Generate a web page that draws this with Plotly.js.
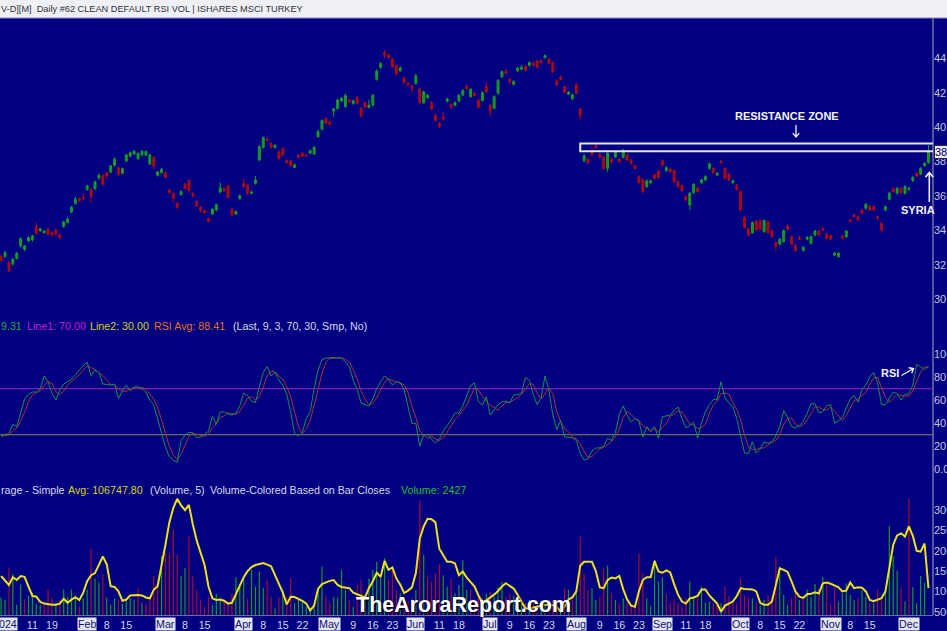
<!DOCTYPE html>
<html><head><meta charset="utf-8">
<script src="https://cdn.plot.ly/plotly-3.0.1.min.js"></script>
<style>html,body{margin:0;padding:0;background:#000080;overflow:hidden}#chart{width:947px;height:631px}</style>
</head><body><div id="chart"></div>
<script>
// ---- categories (trading days) ----
const holidays = ['2024-01-01','2024-01-15','2024-02-19','2024-03-29','2024-05-27','2024-06-19','2024-07-04','2024-09-02','2024-11-28'];
const firstDay = [2023, 11, 29], lastDay = [2024, 11, 9];
const dates = [];
for (let t = Date.UTC(...firstDay); t <= Date.UTC(...lastDay); t += 86400000) {
  const d = new Date(t), wd = d.getUTCDay(), s = d.toISOString().slice(0, 10);
  if (wd === 0 || wd === 6 || holidays.includes(s)) continue;
  dates.push(s);
}

// ---- price (OHLC) ----
const openP = [32.47,32.47,32.12,32.04,32.37,33.09,32.89,33.38,33.44,34.21,
33.98,33.86,34.06,33.88,34.02,33.75,34.21,34.44,35.06,35.57,
35.84,35.90,36.38,36.38,36.42,37.04,37.18,37.35,37.39,37.78,
37.64,37.31,38.03,38.32,38.44,38.16,38.38,38.38,37.85,38.24,
37.20,37.35,37.35,36.35,36.15,35.57,36.09,36.69,36.89,36.15,
35.68,35.34,35.14,34.68,34.95,35.18,36.23,36.42,36.58,35.24,
34.95,35.84,36.73,36.63,36.15,36.73,38.09,38.82,39.31,39.06,
38.82,38.55,38.75,38.07,38.03,37.66,38.36,38.47,38.36,38.48,
38.44,39.44,39.89,40.51,40.30,40.93,41.09,41.52,41.19,41.57,
41.38,41.71,41.09,41.42,41.15,41.28,42.78,43.47,44.33,44.19,
43.96,43.57,43.28,42.87,42.54,42.39,42.54,42.22,41.42,41.71,
41.42,40.70,40.22,40.57,41.50,41.30,41.26,41.52,41.87,42.35,
41.77,41.96,41.57,41.54,42.35,41.26,41.09,41.96,42.93,43.24,
42.78,42.49,43.28,43.36,43.55,43.59,43.73,43.84,43.84,44.04,
43.94,43.75,42.70,42.91,42.35,41.92,41.65,42.45,41.05,38.05,
38.13,38.63,38.92,38.42,38.24,37.60,38.13,38.28,38.13,38.24,
38.38,38.09,37.76,37.12,36.93,36.54,36.77,37.22,37.45,38.05,
37.47,37.56,37.47,36.83,36.58,35.96,35.47,36.19,36.46,36.77,
36.93,37.60,37.60,37.22,38.03,37.60,37.27,36.77,36.63,36.25,
34.75,34.08,33.86,34.54,34.56,33.92,34.50,33.98,33.28,33.20,
33.34,34.25,33.63,33.11,33.57,32.82,33.49,33.24,33.73,33.96,
34.11,33.79,33.69,32.56,32.47,33.67,33.63,34.60,34.89,34.79,
35.18,35.28,35.41,35.37,34.79,34.41,35.18,35.80,36.44,36.15,
36.44,36.15,36.38,36.89,37.31,37.27,37.76,37.93];
const highP = [32.6,32.8,32.2,32.4,32.75,33.6,33.15,33.65,33.75,34.42,
34.15,34.0,34.15,33.95,34.1,33.8,34.55,34.75,35.42,35.95,
35.9,36.15,36.65,36.45,36.9,37.3,37.25,37.42,37.8,38.25,
37.7,37.65,38.45,38.58,38.68,38.52,38.68,38.66,38.45,38.3,
37.45,37.62,37.42,36.42,36.2,35.62,36.32,36.75,36.95,36.22,
35.75,35.4,35.2,34.75,35.28,35.55,36.8,36.5,36.65,35.3,
35.15,36.08,37.0,36.7,36.3,37.15,38.95,39.45,39.4,39.12,
39.0,38.62,38.85,38.12,38.1,37.88,38.42,38.55,38.42,38.7,
38.9,39.85,40.45,40.58,40.38,41.12,41.65,41.75,41.95,41.65,
41.6,41.8,41.15,41.5,41.6,41.92,43.35,43.78,44.5,44.28,
44.05,43.65,43.55,42.95,42.62,42.45,43.1,42.3,42.12,41.92,
41.5,40.78,40.3,40.9,41.7,41.38,41.5,41.92,42.2,42.5,
42.28,42.05,41.65,42.08,42.62,41.35,41.85,42.78,43.3,43.42,
42.85,42.72,43.5,43.62,43.62,43.82,43.8,43.9,43.95,44.22,
44.0,43.82,42.78,43.0,42.42,42.1,41.95,42.6,41.12,38.45,
38.2,38.85,39.0,38.5,38.3,38.55,38.2,38.62,38.2,38.72,
38.45,38.15,37.82,37.2,37.0,36.95,36.95,37.3,37.52,38.12,
37.72,37.65,37.55,36.9,36.65,36.05,36.22,36.75,36.52,37.0,
37.2,37.95,37.68,37.38,38.1,37.68,37.35,36.95,36.7,36.32,
34.82,34.15,34.52,34.6,34.62,34.62,34.56,34.05,33.35,33.55,
34.05,34.4,33.7,33.18,33.7,33.08,33.66,33.7,34.02,34.03,
34.2,33.85,33.75,32.75,32.72,33.73,34.02,34.67,34.96,34.86,
35.25,35.58,35.48,35.44,34.86,34.48,35.44,36.22,36.51,36.51,
36.51,36.61,36.51,37.15,37.38,37.67,37.96,38.96];
const lowP = [32.15,32.4,31.55,31.95,32.3,33.0,32.8,33.3,33.35,33.75,
33.9,33.8,33.7,33.65,33.7,33.45,34.15,34.4,35.0,35.5,
35.65,35.75,36.3,35.6,36.35,36.95,36.6,37.05,37.3,37.7,
37.15,37.25,37.95,38.25,38.38,38.1,38.3,38.3,37.8,37.55,
37.12,37.3,37.0,36.1,35.6,35.25,36.0,36.38,36.25,35.9,
35.35,35.05,34.98,34.45,34.9,35.1,36.15,36.25,35.85,34.8,
34.88,35.78,36.45,36.05,36.1,36.65,38.0,38.75,39.15,38.75,
38.75,38.1,38.3,37.88,37.7,37.6,38.18,38.26,38.28,38.42,
38.38,39.38,39.8,40.15,40.05,40.6,41.0,41.45,41.1,41.4,
41.3,41.3,40.55,41.08,41.08,41.2,42.7,43.4,44.0,43.98,
43.45,43.0,43.2,42.5,42.38,42.0,42.45,41.35,41.35,41.65,
40.98,40.3,39.95,40.4,41.45,41.08,41.2,41.45,41.8,42.18,
41.7,41.78,41.08,41.48,41.98,40.6,41.02,41.9,42.85,43.05,
42.52,42.42,43.2,43.3,43.22,43.52,43.55,43.4,43.7,43.98,
43.65,43.15,42.38,42.72,41.95,41.85,41.58,41.9,40.45,37.95,
37.85,38.3,38.75,38.15,37.5,37.4,37.9,38.2,37.92,38.18,
38.02,37.82,37.52,36.7,36.15,36.45,36.7,36.95,37.0,37.72,
37.4,37.35,36.75,36.45,36.22,35.68,35.2,36.12,36.18,36.7,
36.85,37.52,37.28,37.15,37.85,36.95,36.85,36.7,36.3,35.1,
34.1,33.65,33.8,33.95,34.0,33.85,33.8,33.55,32.8,33.12,
33.28,34.0,33.12,32.75,33.42,32.75,33.42,33.18,33.66,33.66,
33.95,33.46,33.42,32.5,32.4,33.46,33.56,34.43,34.72,34.53,
34.92,35.2,35.11,35.11,34.63,33.9,35.11,35.73,36.18,36.08,
36.12,36.08,36.31,36.82,37.09,37.2,37.69,37.86];
const closeP = [32.27,32.70,31.65,32.31,32.66,33.51,33.09,33.57,33.67,33.82,
34.08,33.96,33.77,33.73,33.77,33.59,34.48,34.66,35.34,35.80,
35.72,35.85,36.58,35.96,36.81,37.20,36.69,37.16,37.74,38.13,
37.27,37.58,38.38,38.51,38.59,38.47,38.59,38.57,38.38,37.74,
37.39,37.54,37.08,36.21,35.86,35.32,36.25,36.44,36.31,36.01,
35.41,35.14,35.03,34.52,35.22,35.49,36.46,36.30,35.92,34.89,
35.08,36.01,36.54,36.15,36.23,36.92,38.86,39.39,39.21,38.82,
38.94,38.18,38.38,37.93,37.76,37.80,38.24,38.32,38.32,38.63,
38.82,39.73,40.37,40.22,40.16,41.05,41.57,41.67,41.83,41.46,
41.52,41.38,40.66,41.15,41.27,41.85,43.26,43.69,44.19,44.06,
43.51,43.09,43.42,42.60,42.45,42.25,42.97,41.44,42.04,41.85,
41.05,40.37,40.03,40.47,41.63,41.15,41.42,41.85,42.12,42.23,
42.20,41.83,41.15,42.00,42.04,40.95,41.77,42.70,43.22,43.13,
42.60,42.64,43.42,43.47,43.30,43.75,43.61,43.47,43.75,44.15,
43.71,43.22,42.45,42.78,42.02,42.02,41.87,41.96,40.66,38.32,
37.93,38.38,38.82,38.24,37.60,38.47,37.97,38.57,37.99,38.67,
38.09,37.89,37.60,36.77,36.25,36.87,36.87,37.02,37.08,37.80,
37.64,37.41,36.83,36.54,36.30,35.76,36.15,36.67,36.25,36.93,
37.12,37.86,37.35,37.31,37.93,37.02,36.93,36.87,36.38,35.18,
34.17,33.73,34.44,34.02,34.06,34.56,33.86,33.63,33.05,33.47,
33.98,34.06,33.20,32.82,33.48,33.01,33.59,33.63,33.96,33.73,
34.02,33.53,33.49,32.66,32.66,33.53,33.96,34.50,34.79,34.60,
34.99,35.51,35.18,35.18,34.70,34.02,35.37,36.15,36.25,36.44,
36.19,36.54,36.44,37.08,37.16,37.60,37.89,38.55];

// ---- RSI (9) and its 3-bar average ----
const rsi = [28,30,31,39,37,50,61,65,67,67,70,81,76,66,60,69,74,76,78,82,
86,90,93,81,86,84,74,73.5,73,74,61.5,68,73,68,71.5,71.5,70,67,60,56,
44,30,19,11,8,6,25,29.5,32,32,27.5,28,30.5,33,46,39,50,49.5,48,47,
48.5,55,66,64,59,58,71.6,84,89,81,84,77.5,73,65,50,31,29,32.5,44,50,
70,86,95,96.5,96.8,96.8,96.6,96.5,93,89,77,69,57.7,56,54.8,61,70,76,80.9,78,
73,76,75,69,55,39.8,39.8,20,30,30,26,23,26,33,38,42.7,49,48.5,55,63,
72.5,75,58.6,55.7,63,47,51,56,58.5,59,57.5,64.5,64.7,66,79.5,77,65,56,62,80.9,
68.7,47,34.6,42.5,28,27.4,27.4,25,13.8,8,9,16,18.5,18.5,20,26.8,25,32,48,55,
47,41,44,42,28,37,33,37,27,45.6,46,47,51,54,44,36,38,41,27,40,
50,56,60.6,60.6,76,62,57.5,54.5,44,30,14,13.8,23.9,14,17.5,23.9,22.5,24,29,37,
51,45,37,36,38,41.5,48.5,57,56.7,49,50,55,56,40,42,45,53.5,61,64,58,
69,73,80,84,75,56,56,62,67,65.5,60,65,65.5,73,91,89,86.5,89.31];
const rsiAvg = [29,29.5,29.7,33.3,35.7,42,49.3,58.7,64.3,66.3,68,72.7,75.7,74.3,67.3,65,67.7,73,76,78.7,
82,86,89.7,88,86.7,83.7,81.3,77.2,73.5,73.5,69.5,67.8,67.5,69.7,70.8,70.3,71,69.5,65.7,61,
53.3,43.3,31,20,12.7,8.3,13,20.2,28.8,31.2,30.5,29.2,28.7,30.5,36.5,39.3,45,46.2,49.2,48.2,
47.8,50.2,56.5,61.7,63,60.3,62.9,71.2,81.5,84.7,84.7,80.8,78.2,71.8,62.7,48.7,36.7,30.8,35.2,42.2,
54.7,68.7,83.7,92.5,96.1,96.7,96.7,96.6,95.4,92.8,86.3,78.3,67.9,60.9,56.2,57.3,61.9,69,75.6,78.3,
77.3,75.7,74.7,73.3,66.3,54.6,44.9,33.2,29.9,26.7,28.7,26.3,25,27.3,32.3,37.9,43.2,46.7,50.8,55.5,
63.5,70.2,68.7,63.1,59.1,55.2,53.7,51.3,55.2,57.8,58.3,60.3,62.2,65.1,70.1,74.2,73.8,66,61,66.3,
70.5,65.5,50.1,41.4,35,32.6,27.6,26.6,22.1,15.6,10.3,11,14.5,17.7,19,21.8,23.9,27.9,35,45,
50,47.7,44,42.3,38,35.7,32.7,35.7,32.3,36.5,39.5,46.2,48,50.7,49.7,44.7,39.3,38.3,35.3,36,
39,48.7,55.5,59.1,65.7,66.2,65.2,58,52,42.8,29.3,19.3,17.2,17.2,18.5,18.5,21.3,23.5,25.2,30,
39,44.3,44.3,39.3,37,38.5,42.7,49,54.1,54.2,51.9,51.3,53.7,50.3,46,42.3,46.8,53.2,59.5,61,
63.7,66.7,74,79,79.7,71.7,62.3,58,61.7,64.8,64.2,63.5,63.5,67.8,76.5,84.3,88.8,88.41];
const rsiLevels = [70, 30];

// ---- volume and its 5-bar simple average ----
const volume = [85000,79000,158000,143000,67000,117000,80000,89000,97000,69000,
67000,67000,104000,83000,71000,79000,105000,85000,105000,87000,
62000,83000,104000,206000,132000,122000,143000,85000,67000,83000,
79000,71000,79000,83000,79000,108000,72000,71000,87000,138000,
116000,187000,195000,192000,253000,190000,138000,157000,236000,138000,
104000,79000,62000,87000,67000,94000,83000,75000,67000,95000,
135000,116000,135000,83000,153000,112000,149000,108000,130000,87000,
58000,85000,104000,87000,132000,71000,79000,75000,62000,58000,
71000,104000,161000,87000,71000,87000,85000,153000,104000,79000,
62000,116000,128000,83000,132000,153000,173000,136000,182000,128000,
153000,104000,95000,87000,75000,83000,104000,325000,190000,140000,
124000,145000,168000,140000,112000,132000,95000,116000,177000,104000,
104000,79000,89000,83000,95000,99000,87000,110000,124000,87000,
95000,89000,85000,79000,71000,79000,71000,67000,62000,75000,
67000,79000,75000,67000,108000,104000,79000,104000,235000,145000,
104000,108000,79000,87000,157000,163000,95000,79000,71000,83000,
71000,62000,67000,194000,145000,83000,64000,177000,124000,135000,
95000,71000,80000,72000,62000,83000,124000,87000,83000,112000,
72000,75000,71000,67000,71000,112000,87000,79000,71000,132000,
89000,85000,83000,72000,67000,79000,91000,87000,185000,161000,
91000,67000,83000,99000,79000,89000,104000,87000,118000,108000,
135000,116000,67000,110000,75000,95000,120000,91000,79000,83000,
102000,87000,71000,71000,105000,87000,99000,261000,186000,151000,
108000,75000,329000,110000,71000,138000,122000,2427];
const volumeAvg = [138000,126000,116000,135000,128000,138000,136000,112000,89000,87000,
74000,70000,68000,67000,67000,70000,82000,72000,80000,86000,
79000,97000,125000,140000,145000,165000,186000,167000,113000,111000,
100000,77000,80000,90000,91000,91000,90000,85000,83000,104000,
113000,160000,215000,270000,305000,328000,312000,300000,313000,265000,
225000,195000,165000,112000,83000,79000,80000,77000,70000,72000,
92000,112000,135000,150000,160000,165000,168000,170000,166000,162000,
140000,120000,97000,68000,87000,86000,82000,77000,70000,53000,
65000,106000,118000,122000,126000,128000,116000,111000,109000,108000,
97000,93000,89000,85000,108000,125000,146000,136000,175000,153000,
159000,132000,117000,96000,102000,110000,145000,230000,260000,279000,
278000,270000,205000,188000,173000,173000,169000,140000,149000,134000,
124000,112000,90000,72000,78000,84000,92000,101000,112000,120000,
113000,107000,92000,75000,58000,58000,60000,62000,64000,67000,
67000,66000,62000,50000,63000,80000,85000,100000,163000,173000,
173000,173000,150000,110000,108000,128000,134000,132000,138000,105000,
80000,65000,62000,100000,128000,135000,135000,175000,149000,146000,
152000,147000,118000,92000,75000,70000,83000,85000,89000,105000,
105000,90000,80000,70000,50000,65000,70000,75000,88000,108000,
106000,105000,105000,100000,72000,67000,67000,75000,120000,157000,
153000,148000,125000,100000,87000,84000,93000,94000,98000,95000,
120000,122000,119000,115000,110000,100000,102000,122000,108000,110000,
109000,100000,79000,76000,80000,83000,100000,160000,215000,238000,
243000,235000,260000,237000,200000,198000,218000,108000];

// ---- axis labels ----
const priceTicks = [30,32,34,36,38,40,42,44];
const rsiTicks = [0,20,40,60,80,100];
const volTicks = [50000,100000,150000,200000,250000,300000];
const dayTickDates = ['2024-01-11','2024-01-19','2024-02-08','2024-02-15','2024-03-08','2024-03-15',
 '2024-04-08','2024-04-15','2024-04-22','2024-05-09','2024-05-16','2024-05-23','2024-06-11','2024-06-18',
 '2024-07-09','2024-07-16','2024-07-23','2024-08-09','2024-08-16','2024-08-23','2024-09-11','2024-09-18',
 '2024-10-08','2024-10-15','2024-10-22','2024-11-08','2024-11-15'];
const dayTickText = dayTickDates.map(d => String(+d.slice(8)));
const monthDates = ['2024-01-02','2024-02-01','2024-03-01','2024-04-01','2024-05-01','2024-06-03',
 '2024-07-01','2024-08-01','2024-09-03','2024-10-01','2024-11-01','2024-12-02'];
const monthText = ['2024','Feb','Mar','Apr','May','Jun','Jul','Aug','Sep','Oct','Nov','Dec'];
const resistanceZone = [38.6, 39.05];
const resistanceStart = '2024-08-02';

// ---- helpers for pixel-placed decorations ----
const PW = 933, PB = 615, PH = 597;
const px = x => x / PW, py = y => (PB - y) / PH;
function arrowPath(x0, y0, x1, y1, h) {
  const a = Math.atan2(y1 - y0, x1 - x0);
  const b1 = a + Math.PI * 0.78, b2 = a - Math.PI * 0.78;
  const p = (x, y) => px(x) + ',' + py(y);
  return 'M' + p(x0, y0) + ' L' + p(x1, y1) +
    ' M' + p(x1 + h * Math.cos(b1), y1 + h * Math.sin(b1)) + ' L' + p(x1, y1) +
    ' L' + p(x1 + h * Math.cos(b2), y1 + h * Math.sin(b2));
}

const volColors = closeP.map((c, i) => (i === 0 || c >= closeP[i - 1]) ? '#169c1c' : '#a4102a');

const traces = [
  { type: 'candlestick', x: dates, open: openP, high: highP, low: lowP, close: closeP,
    xaxis: 'x', yaxis: 'y', whiskerwidth: 0, hoverinfo: 'skip', showlegend: false,
    increasing: { line: { color: '#1aa01e', width: 1 }, fillcolor: '#159418' },
    decreasing: { line: { color: '#b00c10', width: 1 }, fillcolor: '#a0080c' } },
  { type: 'scatter', mode: 'lines', x: dates, y: rsiAvg, xaxis: 'x', yaxis: 'y2',
    line: { color: '#a83238', width: 1 }, hoverinfo: 'skip', showlegend: false },
  { type: 'scatter', mode: 'lines', x: dates, y: rsi, xaxis: 'x', yaxis: 'y2',
    line: { color: '#1c9048', width: 1 }, hoverinfo: 'skip', showlegend: false },
  { type: 'bar', x: dates, y: volume, xaxis: 'x', yaxis: 'y3', width: 0.3,
    marker: { color: volColors, line: { width: 0 } }, hoverinfo: 'skip', showlegend: false },
  { type: 'scatter', mode: 'lines', x: dates, y: volumeAvg, xaxis: 'x', yaxis: 'y3',
    line: { color: '#ece21c', width: 2 }, hoverinfo: 'skip', showlegend: false }
];

const axFont = { family: 'Liberation Sans, Arial, sans-serif', size: 11, color: '#c4c4dc' };
const legendFont = (c) => ({ family: 'Liberation Sans, Arial, sans-serif', size: 10.7, color: c });
const ann = [];
function txt(x, y, text, color, extra) {
  ann.push(Object.assign({ xref: 'paper', yref: 'paper', x: px(x), y: py(y), text: text,
    showarrow: false, xanchor: 'left', yanchor: 'middle', font: legendFont(color), borderpad: 0 }, extra || {}));
}
// title bar text
txt(0, 9, 'V-D][M]\u00a0\u00a0Daily #62 CLEAN DEFAULT RSI VOL | ISHARES MSCI TURKEY', '#303038',
  { font: { family: 'Liberation Sans, Arial, sans-serif', size: 9.2, color: '#303038' } });
// RSI legend
txt(0, 326, '9.31', '#22b030');
txt(25.7, 326, 'Line1: 70.00', '#c020d0');
txt(89, 326, 'Line2: 30.00', '#d4d420');
txt(152.7, 326, 'RSI Avg: 88.41', '#e07020');
txt(232, 326, '(Last, 9, 3, 70, 30, Smp, No)', '#d8d8e8');
// Volume legend
txt(0, 490, 'rage - Simple', '#d8d8e8');
txt(66.7, 490, 'Avg: 106747.80', '#d4d420');
txt(149, 490, '(Volume, 5)', '#d8d8e8');
txt(209, 490, 'Volume-Colored Based on Bar Closes', '#d8d8e8');
txt(400, 490, 'Volume: 2427', '#22c028');
// callouts
const calloutFont = { family: 'Liberation Sans, Arial, sans-serif', size: 11, color: '#f4f4f8' };
txt(787, 116, '<b>RESISTANCE ZONE</b>', '#fff', { xanchor: 'center', font: calloutFont });
txt(917.5, 210.5, '<b>SYRIA</b>', '#fff', { xanchor: 'center', font: calloutFont });
txt(890, 372.5, '<b>RSI</b>', '#fff', { xanchor: 'center', font: calloutFont });
// watermark
txt(463.5, 605, '<b>TheAroraReport.com</b>', '#fff', { xanchor: 'center',
  font: { family: 'Liberation Sans, Arial, sans-serif', size: 21.5, color: '#ffffff', shadow: '1px 1px 2px #000' } });
// month boxes on the date axis
monthDates.forEach((d, i) => ann.push({ xref: 'x', yref: 'paper', x: d, y: py(623.5), text: monthText[i],
  showarrow: false, xanchor: 'center', yanchor: 'middle', bgcolor: '#e4e4ee', borderpad: 0,
  font: { family: 'Liberation Sans, Arial, sans-serif', size: 10.7, color: '#101070' } }));
// last price box
ann.push({ xref: 'paper', yref: 'y', x: 1, y: closeP[closeP.length - 1], xanchor: 'left', yanchor: 'middle',
  xshift: 1, text: closeP[closeP.length - 1].toFixed(2), showarrow: false, bgcolor: '#e8e8f0',
  bordercolor: '#202040', borderwidth: 1, borderpad: 0,
  font: { family: 'Liberation Sans, Arial, sans-serif', size: 11, color: '#000060' } });

const shapes = [
  // title bar
  { type: 'rect', xref: 'paper', yref: 'paper', x0: -0.01, x1: 1.02, y0: py(18), y1: py(-2),
    fillcolor: '#eef0f6', line: { width: 0 }, layer: 'above' },
  { type: 'line', xref: 'paper', yref: 'paper', x0: -0.01, x1: 1.02, y0: py(18), y1: py(18),
    line: { color: '#9090b8', width: 1 } },
  // right axis line
  { type: 'line', xref: 'paper', yref: 'paper', x0: 1, x1: 1, y0: 0, y1: py(18),
    line: { color: '#7070b4', width: 1.5 } },
  // RSI reference levels
  { type: 'line', xref: 'paper', yref: 'y2', x0: 0, x1: 1, y0: rsiLevels[0], y1: rsiLevels[0],
    line: { color: '#7a1cae', width: 1.3 }, layer: 'below' },
  { type: 'line', xref: 'paper', yref: 'y2', x0: 0, x1: 1, y0: rsiLevels[1], y1: rsiLevels[1],
    line: { color: '#6c6c52', width: 1.3 }, layer: 'below' },
  // resistance zone box
  { type: 'rect', xref: 'x', yref: 'y', x0: dates.indexOf(resistanceStart), x1: dates.length + 6,
    y0: resistanceZone[0], y1: resistanceZone[1], line: { color: '#e4e4ec', width: 2 }, fillcolor: 'rgba(0,0,0,0)' },
  // arrows
  { type: 'path', xref: 'paper', yref: 'paper', path: arrowPath(796, 125, 796, 137, 5), line: { color: '#f0f0f6', width: 1.3 } },
  { type: 'path', xref: 'paper', yref: 'paper', path: arrowPath(929.3, 202, 929.3, 172.5, 6), line: { color: '#f0f0f6', width: 1.6 } },
  { type: 'path', xref: 'paper', yref: 'paper', path: arrowPath(901.5, 375.5, 913.5, 368.5, 5), line: { color: '#f0f0f6', width: 1.4 } }
];

const layout = {
  width: 947, height: 631,
  margin: { l: 0, r: 947 - PW, t: 18, b: 631 - PB, pad: 0 },
  paper_bgcolor: '#000080', plot_bgcolor: '#000080',
  showlegend: false, hovermode: false, dragmode: false,
  xaxis: { type: 'category', anchor: 'y3', range: [-0.28, 238.16], rangeslider: { visible: false },
    tickvals: dayTickDates, ticktext: dayTickText, tickfont: { family: 'Liberation Sans, Arial, sans-serif', size: 10.7, color: '#d4d4e6' },
    ticks: '', showgrid: false, zeroline: false, showline: true, linecolor: '#6a6ab0', linewidth: 1, fixedrange: true },
  yaxis: { domain: [py(312), 1], side: 'right', anchor: 'x', range: [29.25, 46.34],
    tickvals: priceTicks, ticktext: priceTicks.map(v => v.toFixed(2)), tickfont: axFont,
    ticks: '', showgrid: false, zeroline: false, showline: false, fixedrange: true },
  yaxis2: { domain: [py(480), py(312)], side: 'right', anchor: 'x', range: [-9.28, 136.4],
    tickvals: rsiTicks, ticktext: rsiTicks.map(v => v.toFixed(2)), tickfont: axFont,
    ticks: '', showgrid: false, zeroline: false, showline: false, fixedrange: true },
  yaxis3: { domain: [0, py(480)], side: 'right', anchor: 'x', range: [41900, 374400],
    tickvals: volTicks, ticktext: volTicks.map(v => String(v)), tickfont: axFont,
    ticks: '', showgrid: false, zeroline: false, showline: false, fixedrange: true },
  annotations: ann,
  shapes: shapes
};

Plotly.newPlot('chart', traces, layout, { staticPlot: true, displayModeBar: false });
</script>
</body></html>
